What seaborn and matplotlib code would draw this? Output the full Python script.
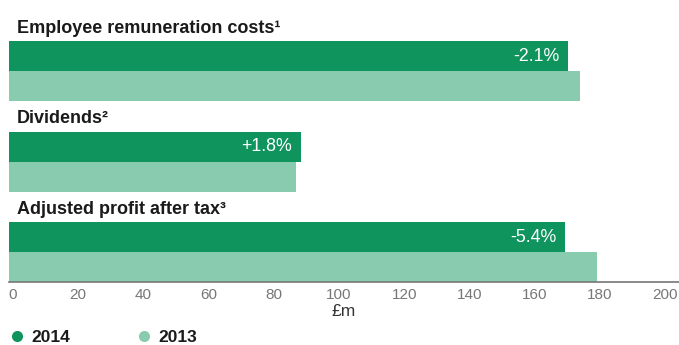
import matplotlib
matplotlib.use("Agg")
import matplotlib.pyplot as plt
import matplotlib.transforms as mtransforms
from matplotlib.lines import Line2D
import seaborn as sns
import pandas as pd

# Data (£m)
categories = ["Employee remuneration costs¹", "Dividends²", "Adjusted profit after tax³"]
values_2014 = [171.5, 89.5, 170.6]
values_2013 = [175.2, 87.9, 180.3]
years = ["2014", "2013"]
x_ticks = [0, 20, 40, 60, 80, 100, 120, 140, 160, 180, 200]

dark_green = "#0F945E"
light_green = "#88CBAF"

sns.set_theme(style="white")
plt.rcParams["font.family"] = ["Liberation Sans", "DejaVu Sans"]

df = pd.DataFrame({
    "category": categories * 2,
    "year": [years[0]] * 3 + [years[1]] * 3,
    "value": values_2014 + values_2013,
})

fig = plt.figure(figsize=(6.79, 3.45), dpi=100)
ax = fig.add_axes([9 / 679, (345 - 282) / 345, 1 - 9 / 679, (282 - 10.5) / 345])

sns.barplot(data=df, y="category", x="value", hue="year", hue_order=years,
            order=categories, palette=[dark_green, light_green], orient="h",
            width=0.66, linewidth=0, saturation=1, legend=False, ax=ax)

ax.set_xlim(0, 205.5)
ax.set_ylim(2.33, -0.67)

# Group titles above each pair of bars
for i, cat in enumerate(categories):
    ax.text(2.5, i - 0.33 - 0.095, cat, ha="left", va="baseline",
            fontsize=13, fontweight="bold", color="#1a1a1a")

# Percentage change inside the 2014 bars
for i, (v14, v13) in enumerate(zip(values_2014, values_2013)):
    change = (v14 / v13 - 1) * 100
    ax.text(v14 - 2.8, i - 0.165, f"{change:+.1f}%", ha="right", va="center",
            fontsize=12.8, color="white")

ax.set_yticks([])
ax.set_ylabel("")
ax.set_xticks(x_ticks)
ax.set_xticklabels([str(t) for t in x_ticks], fontsize=11, color="#777777")
ax.tick_params(axis="x", length=0, pad=4)
shift = mtransforms.ScaledTranslation(4 / 100, 0, fig.dpi_scale_trans)
for lbl in ax.get_xticklabels():
    lbl.set_transform(lbl.get_transform() + shift)
ax.set_xlabel("£m", fontsize=12.5, color="#333333", labelpad=2)

for side in ["top", "right", "left"]:
    ax.spines[side].set_visible(False)
ax.spines["bottom"].set_color("#777777")
ax.spines["bottom"].set_linewidth(1.2)

handles = [Line2D([0], [0], marker="o", linestyle="", markersize=8,
                  markerfacecolor=c, markeredgewidth=0)
           for c in (dark_green, light_green)]
leg = fig.legend(handles, years, loc="center left",
                 bbox_to_anchor=(4.4 / 679, 1 - 337.5 / 345),
                 ncol=2, frameon=False, handlelength=1.0, handletextpad=0.35,
                 columnspacing=3.75, borderpad=0.2, borderaxespad=0,
                 prop={"size": 12.5, "weight": "bold"})
for t in leg.get_texts():
    t.set_color("#1a1a1a")

fig.savefig("out.png", dpi=100)
